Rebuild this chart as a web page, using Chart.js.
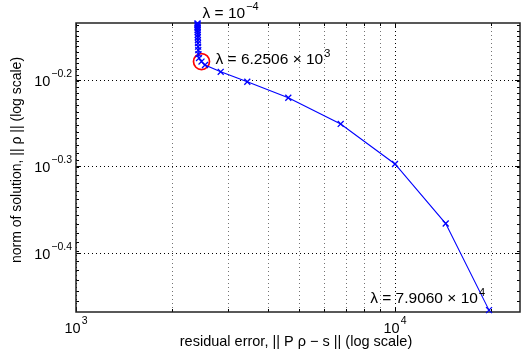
<!DOCTYPE html>
<html><head><meta charset="utf-8">
<script src="https://cdn.jsdelivr.net/npm/chart.js@4/dist/chart.umd.min.js"></script>
<style>html,body{margin:0;padding:0;background:#fff;overflow:hidden;}canvas{display:block;}</style>
</head><body><canvas id="c" width="521" height="354" style="width:521px;height:354px"></canvas>
<script>
// L-curve data: residual norm ||P rho - s|| and solution norm ||rho||, ordered from lambda = 1e-4 to lambda = 7.906e4
const residualNorm = [2404, 2404, 2405, 2405, 2406, 2406, 2407, 2408, 2409, 2410, 2412, 2414, 2417, 2420, 2430, 2474, 2537, 2842, 3443, 4629, 6757, 10000, 14420, 19710];
const solutionNorm = [0.7340, 0.7321, 0.7302, 0.7273, 0.7244, 0.7205, 0.7167, 0.7120, 0.7073, 0.7017, 0.6961, 0.6897, 0.6833, 0.6761, 0.6690, 0.6628, 0.6567, 0.6449, 0.6281, 0.6018, 0.5613, 0.5045, 0.4304, 0.3417];
const cornerIndex = 15;
const lambdaLabels = [
  {index: 0, base: 'λ = 10', exp: '\u22124'},
  {index: 15, base: 'λ = 6.2506 × 10', exp: '3'},
  {index: 23, base: 'λ = 7.9060 × 10', exp: '4'}
];
const xMajorTicks = [1000, 10000];
const xMajorExp = ['3', '4'];
const xMinorTicks = [2000, 3000, 4000, 5000, 6000, 7000, 8000, 9000, 20000];
const yMajorTicks = [Math.pow(10, -0.4), Math.pow(10, -0.3), Math.pow(10, -0.2)];
const yMajorExp = ['\u22120.4', '\u22120.3', '\u22120.2'];
const xLimits = [1000, 24650];
const yLimits = [0.3404, 0.7346];
const xTitle = 'residual error, || P ρ \u2212 s || (log scale)';
const yTitle = 'norm of solution, || ρ || (log scale)';

const FONT = '"Liberation Sans", Arial, Helvetica, sans-serif';
function drawPow(ctx, base, exp, x, y, align, size, supSize, rise) {
  ctx.font = size + 'px ' + FONT; const wb = ctx.measureText(base).width;
  ctx.font = supSize + 'px ' + FONT; const we = ctx.measureText(exp).width;
  const total = wb + 1 + we;
  let x0 = align === 'center' ? x - total / 2 : (align === 'right' ? x - total : x);
  ctx.textAlign = 'left'; ctx.textBaseline = 'middle'; ctx.fillStyle = '#000';
  ctx.font = size + 'px ' + FONT; ctx.fillText(base, x0, y);
  ctx.font = supSize + 'px ' + FONT; ctx.fillText(exp, x0 + wb + 1, y - rise);
}

const gridPlugin = {
  id: 'matlabAxes',
  beforeDatasetsDraw(chart) {
    const {ctx, chartArea: a, scales: {x, y}} = chart;
    ctx.save();
    ctx.lineWidth = 1;
    ctx.setLineDash([1, 3]);
    xMinorTicks.forEach(v => {
      const px = Math.round(x.getPixelForValue(v)) + 0.5;
      ctx.strokeStyle = 'rgba(0,0,0,0.55)';
      ctx.beginPath(); ctx.moveTo(px, a.top); ctx.lineTo(px, a.bottom); ctx.stroke();
    });
    xMajorTicks.forEach(v => {
      const px = Math.round(x.getPixelForValue(v)) + 0.5;
      ctx.strokeStyle = '#000';
      ctx.beginPath(); ctx.moveTo(px, a.top); ctx.lineTo(px, a.bottom); ctx.stroke();
    });
    yMajorTicks.forEach(v => {
      const py = Math.round(y.getPixelForValue(v)) + 0.5;
      ctx.strokeStyle = '#000';
      ctx.beginPath(); ctx.moveTo(a.left, py); ctx.lineTo(a.right, py); ctx.stroke();
    });
    ctx.setLineDash([]);
    ctx.strokeStyle = '#000';
    const tick = (x1, y1, x2, y2) => { ctx.beginPath(); ctx.moveTo(x1, y1); ctx.lineTo(x2, y2); ctx.stroke(); };
    xMajorTicks.forEach(v => { const px = Math.round(x.getPixelForValue(v)) + 0.5; tick(px, a.bottom, px, a.bottom - 5); tick(px, a.top, px, a.top + 5); });
    xMinorTicks.forEach(v => { const px = Math.round(x.getPixelForValue(v)) + 0.5; tick(px, a.bottom, px, a.bottom - 3); tick(px, a.top, px, a.top + 3); });
    yMajorTicks.forEach(v => { const py = Math.round(y.getPixelForValue(v)) + 0.5; tick(a.left, py, a.left + 5, py); tick(a.right, py, a.right - 5, py); });
    for (let k = 35; k <= 73; k++) {
      const py = Math.round(y.getPixelForValue(k / 100)) + 0.5;
      tick(a.left, py, a.left + 3, py); tick(a.right, py, a.right - 3, py);
    }
    ctx.lineWidth = 1.5; ctx.strokeStyle = '#222';
    ctx.strokeRect(a.left, a.top, a.right - a.left, a.bottom - a.top);
    ctx.restore();
  },
  afterDraw(chart) {
    const {ctx, chartArea: a, scales: {x, y}} = chart;
    ctx.save();
    xMajorTicks.forEach((v, i) => drawPow(ctx, '10', xMajorExp[i], x.getPixelForValue(v), 329, 'center', 14.5, 10.5, 8));
    yMajorTicks.forEach((v, i) => drawPow(ctx, '10', yMajorExp[i], a.left - 4, y.getPixelForValue(v) + 2, 'right', 14.5, 10.5, 8));
    ctx.fillStyle = '#000'; ctx.textAlign = 'center'; ctx.textBaseline = 'middle';
    ctx.font = '14.5px ' + FONT;
    ctx.fillText(xTitle, 296, 342);
    ctx.font = '14px ' + FONT;
    ctx.save(); ctx.translate(17, 160); ctx.rotate(-Math.PI / 2);
    ctx.fillText(yTitle, 0, 0); ctx.restore();
    const pt = i => ({x: x.getPixelForValue(residualNorm[i]), y: y.getPixelForValue(solutionNorm[i])});
    const p0 = pt(lambdaLabels[0].index), pc = pt(lambdaLabels[1].index), pe = pt(lambdaLabels[2].index);
    drawPow(ctx, lambdaLabels[0].base, lambdaLabels[0].exp, p0.x + 5, p0.y - 10, 'left', 15.5, 11, 6);
    drawPow(ctx, lambdaLabels[1].base, lambdaLabels[1].exp, pc.x + 14, pc.y - 1.5, 'left', 15.5, 11, 6);
    drawPow(ctx, lambdaLabels[2].base, lambdaLabels[2].exp, pe.x - 4, pe.y - 11, 'right', 15.5, 11, 6);
    ctx.restore();
  }
};

new Chart(document.getElementById('c'), {
  type: 'scatter',
  data: {
    datasets: [{
      data: residualNorm.map((v, i) => ({x: v, y: solutionNorm[i]})),
      showLine: true,
      borderColor: '#0000ff',
      backgroundColor: '#0000ff',
      borderWidth: 1.1,
      pointStyle: 'crossRot',
      pointRadius: 4.2,
      pointBorderWidth: 1.3,
      clip: false
    }, {
      data: [{x: residualNorm[cornerIndex], y: solutionNorm[cornerIndex]}],
      showLine: false,
      pointStyle: 'circle',
      pointRadius: 8,
      borderColor: '#ff0000',
      backgroundColor: 'rgba(0,0,0,0)',
      pointBorderWidth: 1.7,
      clip: false
    }]
  },
  options: {
    responsive: false,
    animation: false,
    events: [],
    layout: {autoPadding: false, padding: {left: 76, right: 1, top: 23, bottom: 42}},
    plugins: {legend: {display: false}, tooltip: {enabled: false}},
    scales: {
      x: {type: 'logarithmic', min: xLimits[0], max: xLimits[1], display: false},
      y: {type: 'logarithmic', min: yLimits[0], max: yLimits[1], display: false}
    }
  },
  plugins: [gridPlugin]
});
</script></body></html>
